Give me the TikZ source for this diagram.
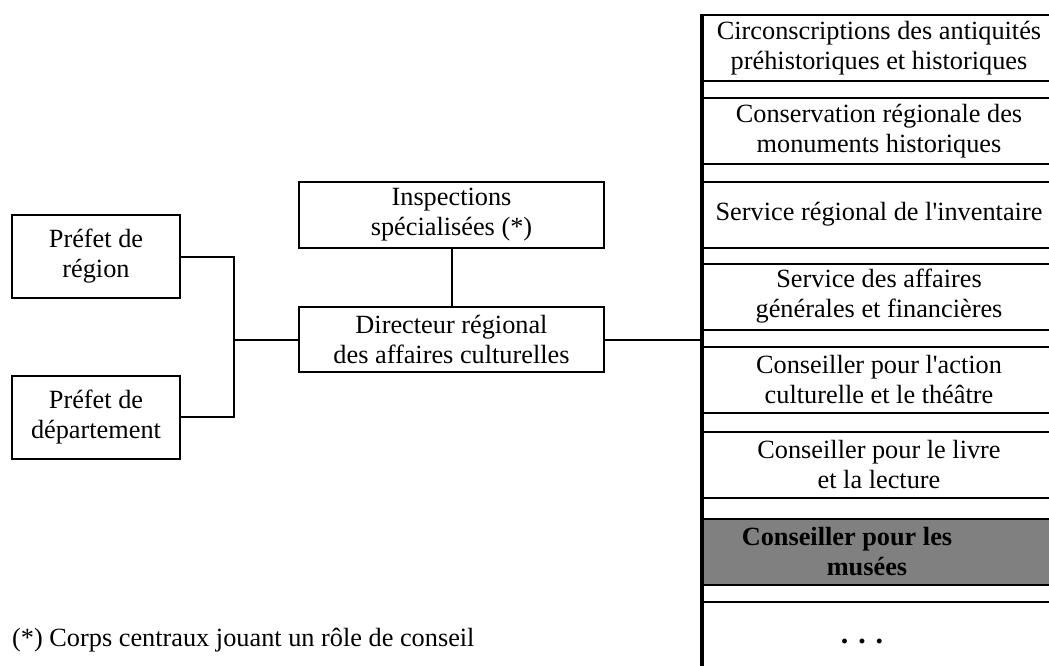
\documentclass[tikz,border=0pt]{standalone}
\usepackage{fontspec}
\setmainfont{Liberation Serif}
\usepackage{xcolor}

\begin{document}
\begin{tikzpicture}[x = 1pt, y = -1pt,
	box/.style = {draw, line width = 2pt, align = center, inner sep = 0pt,
		minimum width = 168pt, minimum height = 83pt,
		font = \fontsize{26.3}{30}\selectfont},
	svcbox/.style = {box, minimum width = 352pt, minimum height = 66pt},
	link/.style = {line width = 2pt},
	spine/.style = {line width = 3.5pt}]
	\useasboundingbox (0, 0) rectangle (1049, 666);
	% prefets
	\node[box] (region) at (96, 256.5) {Préfet de\\région};
	\node[box] (dept)   at (96, 417)   {Préfet de\\département};
	% direction
	\node[box, minimum width = 305pt, minimum height = 66pt] (insp) at (451.5, 215) {Inspections\\spécialisées (*)};
	\node[box, minimum width = 305pt, minimum height = 65pt] (dir)  at (451.5, 339.5) {Directeur régional\\des affaires culturelles};
	% services
	\node[svcbox] (circ)   at (879, 48)    {Circonscriptions des antiquités\\préhistoriques et historiques};
	\node[svcbox] (monu)   at (879, 131)   {Conservation régionale des\\monuments historiques};
	\node[svcbox] (inv)    at (879, 214.5) {Service régional de l\textquotesingle inventaire};
	\node[svcbox] (affgen) at (879, 296.5) {Service des affaires\\générales et financières};
	\node[svcbox] (action) at (879, 379.5) {Conseiller pour l\textquotesingle action\\culturelle et le théâtre};
	\node[svcbox] (livre)  at (879, 464.5) {Conseiller pour le livre\\et la lecture};
	\node[svcbox, fill = black!50, font = \fontsize{26.3}{30}\selectfont\bfseries] (musees) at (879, 552) {Conseiller pour les\hspace*{64pt}\\musées\hspace*{24pt}};
	\node[svcbox, minimum height = 78pt, font = \fontsize{30}{30}\selectfont\bfseries] (etc) at (879, 641) {.\hspace{10pt}.\hspace{10pt}.\hspace*{34pt}};
	\draw[spine] (circ.north west) -- (etc.south west);
	% liens
	\coordinate (jn) at (234, 339.5);
	\draw[link] (region.east) -| (jn) |- (dept.east);
	\draw[link] (jn) -- (dir.west);
	\draw[link] (insp.south) -- (dir.north);
	\draw[link] (dir.east) -- (dir.east -| circ.west);
	% note
	\node[anchor = west, inner sep = 0pt, font = \fontsize{26.3}{30}\selectfont] (note) at (12, 640) {(*) Corps centraux jouant un rôle de conseil};
\end{tikzpicture}
\end{document}
